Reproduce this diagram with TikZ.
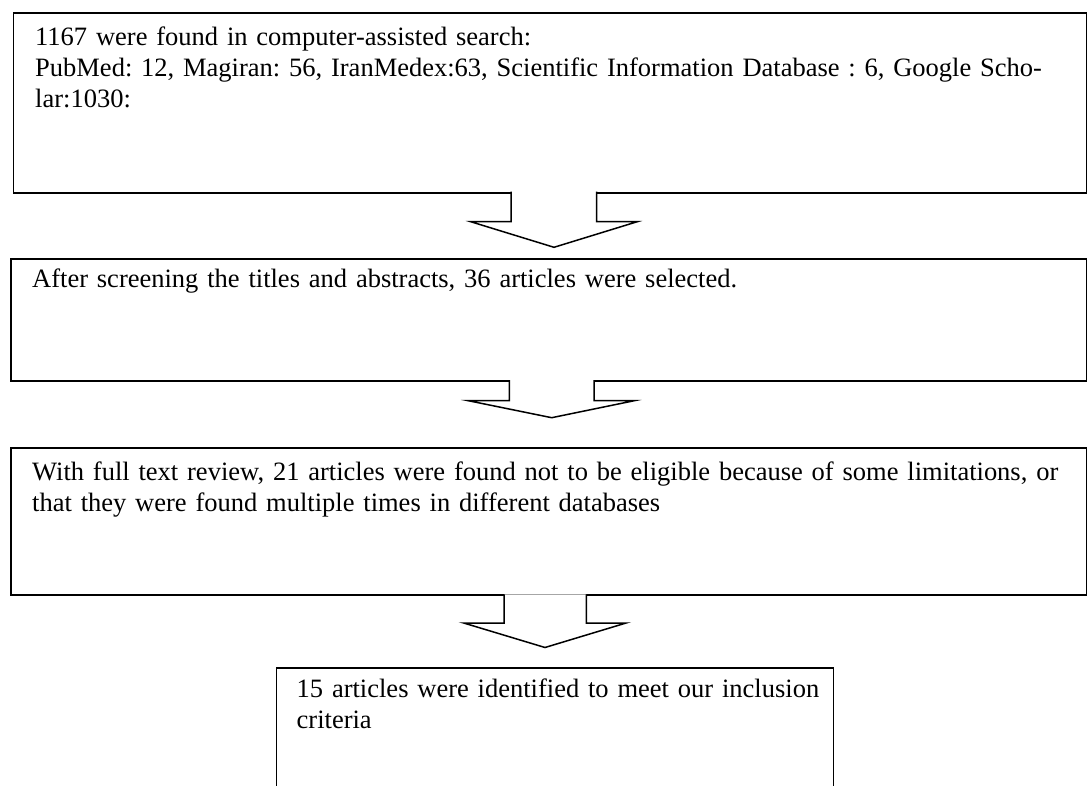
\documentclass[tikz,border=0pt]{standalone}
\usepackage{fontspec}
\setmainfont{Liberation Serif}
\usepackage{tikz}
\tikzset{
  box/.style={draw, line width=1.6pt, rectangle, inner sep=0pt, anchor=north west},
  boxtext/.style={inner sep=0pt, anchor=base west, align=left, text width=1040pt,
    font=\fontsize{26.5pt}{31pt}\selectfont\frenchspacing}
}
% block arrow pointing down: shaft left/right, head left/right, tip x, top y, head y, tip y
\newcommand{\blockdown}[8]{%
  \fill[white] (#1,#6) -- (#1,#7) -- (#3,#7) -- (#5,#8) -- (#4,#7) -- (#2,#7) -- (#2,#6) -- cycle;
  \draw[line width=1.5pt, line join=miter] (#1,#6) -- (#1,#7) -- (#3,#7) -- (#5,#8) -- (#4,#7) -- (#2,#7) -- (#2,#6);
}

\begin{document}
\begin{tikzpicture}[x=1pt, y=-1pt]
  \useasboundingbox (0,0) rectangle (1087,786);
  \node[box, minimum width=1073.5pt, minimum height=180pt] (search) at (12.5,12) {};
  \node[box, minimum width=1076pt, minimum height=122pt] (screen) at (10,258) {};
  \node[box, minimum width=1076pt, minimum height=147pt] (review) at (10,447.3) {};
  \node[box, minimum width=557pt, minimum height=160pt] (include) at (275.5,667.4) {};

  \node[boxtext] (searchtext) at ([shift={(22.5,33.5)}]search.north west)
    {1167 were found in computer-assisted search:\\
     PubMed: 12, Magiran: 56, IranMedex:63, Scientific Information Database : 6, Google Scho-\\
     lar:1030:};
  \node[boxtext] (screentext) at ([shift={(22,30)}]screen.north west)
    {After screening the titles and abstracts, 36 articles were selected.};
  \node[boxtext] (reviewtext) at ([shift={(22,33)}]review.north west)
    {With full text review, 21 articles were found not to be eligible because of some limitations, or\\
     that they were found multiple times in different databases};
  \node[boxtext] (includetext) at ([shift={(21,30)}]include.north west)
    {15 articles were identified to meet our inclusion\\
     criteria};

  \blockdown{511}{596.7}{470.7}{637.3}{554}{191.7}{221.7}{247.3}
  \blockdown{509.3}{594}{468.3}{634.3}{551.7}{380}{400.7}{417.7}
  \blockdown{504.2}{586.3}{463.7}{626.1}{545}{594.3}{623}{647.5}
\end{tikzpicture}
\end{document}
